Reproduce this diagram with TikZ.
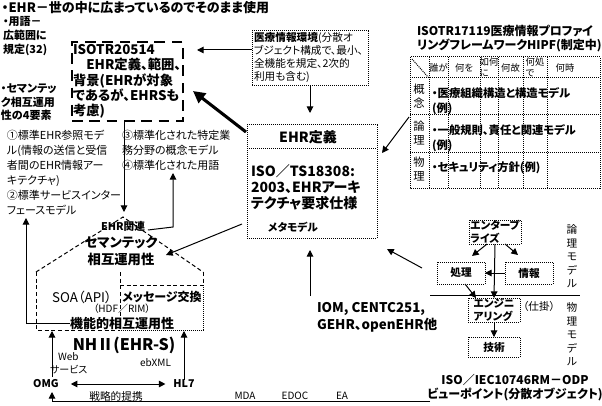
\documentclass[tikz,border=0pt]{standalone}
\usepackage{fontspec}
\setmainfont{Noto Sans CJK JP}[RawFeature=+palt]
\usetikzlibrary{arrows.meta,calc}
\begin{document}
\begin{tikzpicture}[x=0.75pt,y=-0.75pt,
  every node/.style={inner sep=0pt,outer sep=0pt},
  fs/.style 2 args={font=\fontsize{#1}{#2}\selectfont},
  fb/.style 2 args={font=\fontsize{#1}{#2}\selectfont\bfseries},
  dline/.style={line width=0.75pt,dash pattern=on 0.75pt off 0.75pt},
  hdash/.style={line width=0.75pt,dash pattern=on 3pt off 2pt},
  bigdash/.style={line width=2.2pt,dash pattern=on 8pt off 5pt},
  arr/.style={line width=0.75pt,-{Triangle[length=5pt,width=5pt]}},
  darr/.style={line width=0.75pt,{Triangle[length=5pt,width=5pt]}-{Triangle[length=5pt,width=5pt]}},
  thickarr/.style={line width=2.3pt,-{Triangle[length=9pt,width=9pt]}},
  odpbox/.style={draw,dline,minimum width=39pt,minimum height=18pt,fb={8}{9.5},align=left},
]
\useasboundingbox (0,0) rectangle (602,406);

% ---- top-left texts
\node[fb={9.75}{12},anchor=west] (top) at (2,8) {・EHR－世の中に広まっているのでそのまま使用};
\node[fb={8.25}{10.5},anchor=north west,align=left] (yougo) at (3,16) {・用語－\\広範囲に\\規定(32)};
\node[fb={8.25}{10},anchor=north west,align=left] (sem4) at (1,84) {・セマンテッ\\ク相互運用\\性の4要素};

% ---- ISOTR20514 dashed box
\node[draw,bigdash,minimum width=83.25pt,minimum height=59.25pt,anchor=north west] (box1) at (72,42) {};
\node[fb={10}{11.6},anchor=north west,align=left] (box1t) at (73,44) {ISOTR20514\\　EHR定義、範囲、\\背景(EHRが対象\\であるが、EHRSも\\考慮)};

% ---- environment box
\node[draw,dline,minimum width=87pt,minimum height=41.25pt,anchor=north west] (env) at (252,31) {};
\node[fs={8}{9.75},anchor=north west,align=left] (envt) at (254,32.5) {\textbf{医療情報環境}(分散オ\\ブジェクト構成で、最小、\\全機能を規定、2次的\\利用も含む)};
\coordinate (a1) at (197,50);
\draw[arr] (env.west |- a1) -- (a1);
\coordinate (a2) at (310,113);
\draw[arr] (env.south) -- (a2);

% ---- EHR definition box
\node[draw,dline,minimum width=97.5pt,minimum height=84.75pt,anchor=north west] (ehr) at (247,125) {};
\draw[dline] ($(ehr.north west)+(0,23)$) -- ($(ehr.north east)+(0,23)$);
\node[fb={10.5}{12}] (ehrdef) at (308,137) {EHR定義};
\node[fb={10.5}{12},anchor=north west,align=left] (ehrts) at (251,165) {ISO／TS18308:\\2003、EHRアーキ\\テクチャ要求仕様};
\node[fb={8}{9}] (meta) at (293,227) {メタモデル};
\draw[thickarr] ($(ehr.north west)+(-1,7)$) -- ($(box1.south east)+(10,-30)$);

% ---- HIPF table
\node[fb={9}{10.5},anchor=north west,align=left] (hipft) at (417,24.7) {ISOTR17119医療情報プロファイ\\リングフレームワークHIPF(制定中)};
\draw[dline] (410,57) rectangle (600,188);
\foreach \yy in {78,115,152} \draw[dline] (410,\yy) -- (600,\yy);
\foreach \xx in {429,448,480,498,523,547} \draw[dline] (\xx,57) -- (\xx,188);
\draw[dline] (412,59) -- (428,77);
\node[fs={7}{8}] (hwho) at (438.5,68) {誰が};
\node[fs={7}{8}] (hwhat) at (464,68) {何を};
\node[fs={7}{8.5},align=left] (hhow) at (489,67.5) {如何\\に};
\node[fs={7}{8}] (hwhy) at (510.5,68) {何故};
\node[fs={7}{8.5},align=left] (hwhere) at (535,67.5) {何処\\で};
\node[fs={7}{8}] (hwhen) at (565,68) {何時};
\node[fs={8.5}{11},align=center] (r1) at (419,96) {概\\念};
\node[fs={8.5}{11},align=center] (r2) at (419,133) {論\\理};
\node[fs={8.5}{11},align=center] (r3) at (419,169) {物\\理};
\node[fb={8.5}{11.25},anchor=north west,align=left] (t1) at (432,87.3) {・医療組織構造と構造モデル\\(例)};
\node[fb={8.5}{11.25},anchor=north west,align=left] (t2) at (432,124.3) {・一般規則、責任と関連モデル\\(例)};
\node[fb={8.5}{11.25},anchor=west] (t3) at (432,168) {・セキュリティ方針(例)};
\coordinate (h1) at (409,117);
\coordinate (h2) at (382,153);
\draw[arr] (h1) -- (h2);

% ---- left description texts
\node[fs={8.25}{11.25},anchor=north west,align=left] (std12) at (7,130.5) {①標準EHR参照モデ\\ル(情報の送信と受信\\者間のEHR情報アー\\キテクチャ)\\②標準サービスインター\\フェースモデル};
\node[fs={8.25}{11.25},anchor=north west,align=left] (std34) at (122,130.5) {③標準化された特定業\\務分野の概念モデル\\④標準化された用語};

% ---- house
\coordinate (apex) at (123,217);
\coordinate (aptop) at (124,212);
\draw[arr] (box1.south -| aptop) -- (aptop);
\coordinate (rl) at (36,272);
\coordinate (rr) at (203,272);
\draw[hdash] (rl) -- (apex) -- (rr);
\draw[hdash] (rl) -- (36,330) -- (120,330);
\draw[hdash] (120,272) -- (120,330);
\draw[hdash] (rr) -- (203,285);
\draw[hdash] (120,285) -- (203,285);
\draw[dline] (203,285) -- (203,330) -- (120,330);
\node[fb={8}{9}] (ehrk) at (123,226) {EHR関連};
\coordinate (k1) at (173,227);
\coordinate (k2) at (173,173);
\draw[arr] ($(ehrk.east)+(3,4)$) -- (k1) -- (k2);
\node[fb={10}{12.75},align=center] (semint) at (121,251.5) {セマンテック\\相互運用性};
\coordinate (s1) at (242,224);
\coordinate (s2) at (166,255);
\draw[arr] (s1) -- (s2);
\node[fs={10}{12}] (soa) at (82,297) {SOA（API）};
\node[fb={9}{11}] (msg) at (162,297) {メッセージ交換};
\node[fs={7.5}{9}] (hdf) at (122,308.5) {（HDF／RIM）};
\node[fb={9.75}{11}] (kinou) at (122,323.5) {機能的相互運用性};
\coordinate (L1) at (26,323.5);
\coordinate (L2) at (26,218);
\draw[arr] (kinou.west) -- (L1) -- (L2);

% ---- NHII / OMG / HL7
\node[fb={12}{14}] (nhii) at (124,345) {NHⅡ(EHR-S)};
\node[fs={7.5}{9},anchor=west] (web) at (58,357) {Web};
\node[fs={7.5}{9},anchor=west] (svc) at (50,370) {サービス};
\node[fs={7.5}{9},anchor=west] (ebxml) at (140,363) {ebXML};
\node[fb={8}{9}] (omg) at (46,384) {OMG};
\node[fb={8}{9}] (hl7) at (184,384) {HL7};
\draw[darr,shorten <=9pt,shorten >=6pt] (omg.east) -- (hl7.west);
\coordinate (om1) at (52,377);
\coordinate (om2) at (52,331);
\draw[arr] (om1) -- (om2);
\draw[arr] (hl7.north) -- (hl7.north |- om2);
\node[fs={8}{9}] (senryaku) at (116,396) {戦略的提携};
\node[fs={7.5}{9}] (mda) at (245,396) {MDA};
\node[fs={7.5}{9}] (edoc) at (295,396) {EDOC};
\node[fs={7.5}{9}] (ea) at (342,396) {EA};
\coordinate (b1) at (430,401);
\coordinate (b2) at (52,401);
\coordinate (b3) at (52,392);
\draw[arr] (b1) -- (b2) -- (b3);

% ---- IOM
\node[fb={10}{12.75},anchor=north west,align=left] (iom) at (317,302.3) {IOM, CENTC251,\\GEHR、openEHR他};
\coordinate (i1) at (310,296);
\coordinate (i2) at (310,250);
\draw[arr] (i1) -- (i2);

% ---- ODP
\node[odpbox] (ent) at (495,232) {エンタープ\\ライズ};
\node[odpbox,minimum width=36pt,minimum height=16.5pt] (shori) at (461,273) {処理};
\node[odpbox,minimum width=36pt,minimum height=16.5pt] (jouhou) at (529,273) {情報};
\node[odpbox] (eng) at (494,310) {エンジニ\\アリング};
\node[odpbox,minimum height=15pt] (gijutsu) at (494,347) {技術};
\node[fs={8}{9},anchor=west] (shikake) at (523,306) {（仕掛）};
\draw[line width=0.75pt] (430,295) -- (580,295);
\draw[arr] (ent.south) -- (eng.north);
\draw[arr] ($(ent.south)+(-8,0)$) -- (472,256);
\draw[arr] ($(ent.south)+(10,0)$) -- (518,255);
\draw[arr] (jouhou.west) -- (shori.east);
\draw[arr] ($(shori.south east)+(-20,0)$) -- ($(eng.north west)+(8,0)$);
\draw[arr] (eng.south) -- (gijutsu.north);
\node[fs={8}{10.1},anchor=north,align=center] (ronri) at (572,225) {論\\理\\モ\\デ\\ル};
\node[fs={8}{10.1},anchor=north,align=center] (butsuri) at (572,303) {物\\理\\モ\\デ\\ル};
\node[fb={9}{11},align=center] (odp) at (515,387.5) {ISO／IEC10746RM－ODP\\ビューポイント(分散オブジェクト)};
\coordinate (o1) at (422,268);
\coordinate (o2) at (387,249);
\draw[arr] (o1) -- (o2);
\end{tikzpicture}
\end{document}
